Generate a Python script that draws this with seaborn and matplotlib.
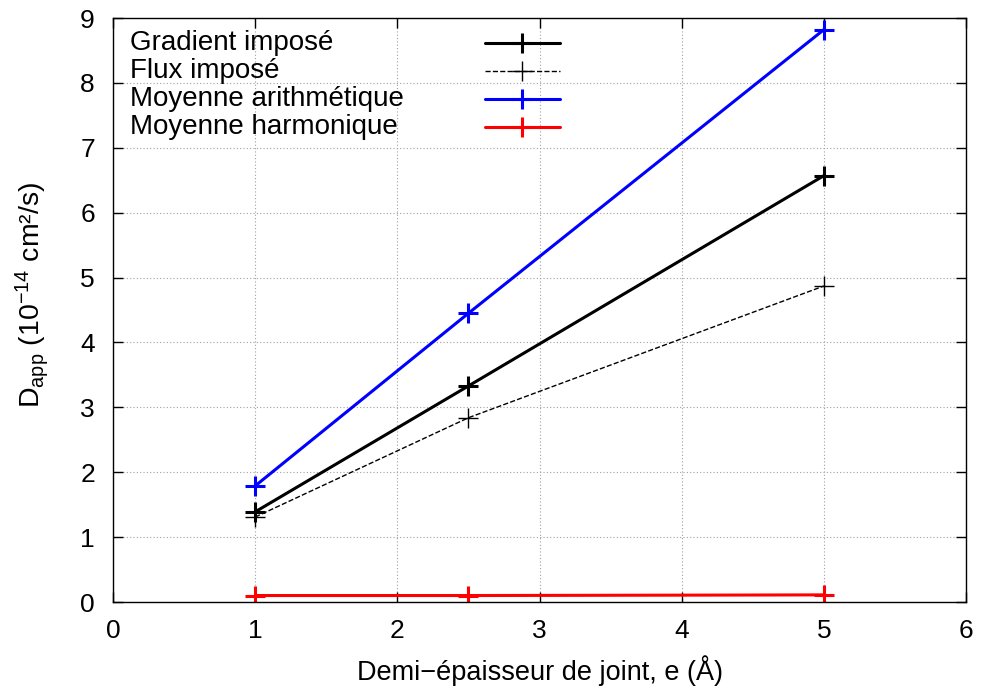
import matplotlib
matplotlib.use('Agg')
import matplotlib.pyplot as plt
import seaborn as sns
import pandas as pd

# half joint thickness (Å)
epaisseur = [1, 2.5, 5]
gradient_impose = [1.39, 3.33, 6.57]
flux_impose = [1.31, 2.84, 4.87]
moy_arith = [1.79, 4.45, 8.82]
moy_harm = [0.10, 0.10, 0.11]

labels = ['Gradient imposé', 'Flux imposé', 'Moyenne arithmétique', 'Moyenne harmonique']
colors = ['black', 'black', '#0000ff', '#ff0000']
styles = ['-', '--', '-', '-']
widths = [2.2, 1.0, 2.2, 2.2]
mews = [2.2, 1.0, 2.2, 2.2]

sns.set_theme(style='ticks')
plt.rcParams['font.family'] = ['Liberation Sans', 'DejaVu Sans']
plt.rcParams['mathtext.fontset'] = 'custom'
plt.rcParams['mathtext.rm'] = 'Liberation Sans'
plt.rcParams['mathtext.it'] = 'Liberation Sans:italic'
plt.rcParams['text.color'] = 'black'
plt.rcParams['axes.labelcolor'] = 'black'

fig = plt.figure(figsize=(9.83, 6.9), dpi=100)
ax = fig.add_axes([0.115, 0.1275, 0.8677, 0.8464])

series = [gradient_impose, flux_impose, moy_arith, moy_harm]
for vals, lab, c, ls, lw, mw in zip(series, labels, colors, styles, widths, mews):
    df = pd.DataFrame({'e': epaisseur, 'D': vals})
    sns.lineplot(data=df, x='e', y='D', ax=ax, color=c, linestyle=ls, linewidth=lw,
                 marker='+', markersize=15, markeredgewidth=mw, markeredgecolor=c,
                 estimator=None, sort=False, legend=False)

ax.set_xlim(0, 6)
ax.set_ylim(0, 9)
ax.set_xticks(range(0, 7))
ax.set_yticks(range(0, 10))
ax.grid(True, color='#a0a0a0', linestyle=(0, (1, 2)), linewidth=0.8)
ax.tick_params(direction='in', length=7, width=1, top=True, right=True,
               labelsize=19, colors='black')
ax.tick_params(axis='x', pad=12)
ax.tick_params(axis='y', pad=13)
for sp in ax.spines.values():
    sp.set_linewidth(1.0)
    sp.set_color('black')

ax.set_xlabel('Demi\u2212épaisseur de joint, e (Å)', fontsize=19.5, labelpad=9)
ax.set_ylabel(r'D$_{\mathrm{app}}$ (10$^{-14}$ cm²/s)', fontsize=20.5)
ax.yaxis.set_label_coords(-0.073, 0.525)

# gnuplot-like key: text left, sample on the right
rows = [0.957, 0.909, 0.861, 0.813]
for lab, c, ls, lw, mw, yy in zip(labels, colors, styles, widths, mews, rows):
    ax.text(0.02, yy, lab, transform=ax.transAxes, fontsize=20, va='center', ha='left')
    ax.plot([0.436, 0.524], [yy, yy], transform=ax.transAxes, color=c, linestyle=ls,
            linewidth=lw, clip_on=False)
    ax.plot([0.48], [yy], transform=ax.transAxes, color=c, marker='+', markersize=15,
            markeredgewidth=mw, clip_on=False)

fig.savefig('out.png', dpi=100)
